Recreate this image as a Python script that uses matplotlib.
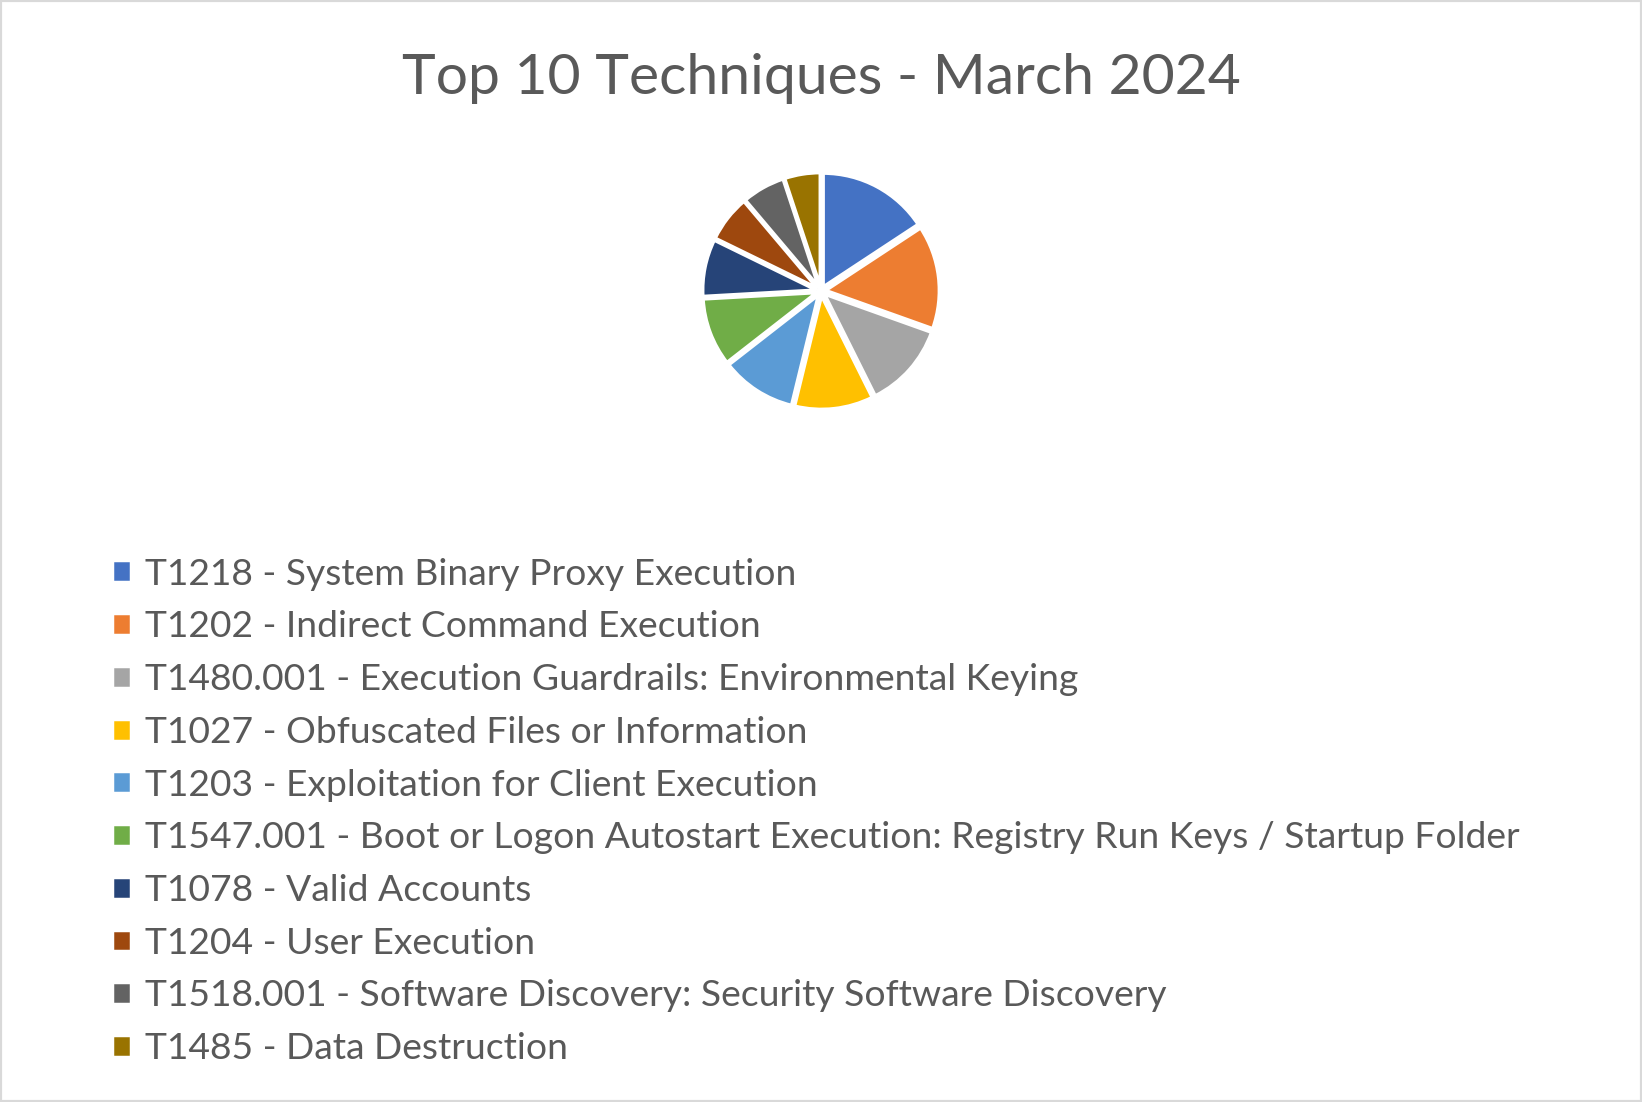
import matplotlib.pyplot as plt
from matplotlib.patches import Rectangle

plt.rcParams['font.family'] = ['Lato', 'DejaVu Sans']

# Techniques and approximate counts
techniques = [
    'T1218 - System Binary Proxy Execution',
    'T1202 - Indirect Command Execution',
    'T1480.001 - Execution Guardrails: Environmental Keying',
    'T1027 - Obfuscated Files or Information',
    'T1203 - Exploitation for Client Execution',
    'T1547.001 - Boot or Logon Autostart Execution: Registry Run Keys / Startup Folder',
    'T1078 - Valid Accounts',
    'T1204 - User Execution',
    'T1518.001 - Software Discovery: Security Software Discovery',
    'T1485 - Data Destruction',
]
counts = [31, 29, 24, 22, 21, 19, 16, 13, 12, 10]
colors = ['#4472C4', '#ED7D31', '#A5A5A5', '#FFC000', '#5B9BD5',
          '#70AD47', '#264478', '#9E480E', '#636363', '#997300']

text_color = '#595959'
W, H = 1642, 1102
fig = plt.figure(figsize=(W / 100, H / 100), dpi=100)

# pie axes centred on the upper part of the chart
cx, cy, size = 821, 291, 296
ax = fig.add_axes([(cx - size / 2) / W, 1 - (cy + size / 2) / H, size / W, size / H])
wedges, _ = ax.pie(counts, colors=colors, startangle=90, counterclock=False,
                   explode=[0.04] * len(counts),
                   wedgeprops=dict(edgecolor='white', linewidth=2.5))
ax.set_xlim(-1.3, 1.3)
ax.set_ylim(-1.3, 1.3)
ax.set_aspect('equal')
ax.axis('off')

fig.text(0.5, 1 - 79 / H, 'Top 10 Techniques - March 2024',
         ha='center', va='center', fontsize=41, color=text_color)

leg = fig.legend(wedges, techniques, loc='upper left',
                 bbox_to_anchor=(93 / W, 1 - 539 / H), frameon=False,
                 fontsize=26.8, handlelength=0.53, handleheight=0.53,
                 handletextpad=0.38, labelspacing=0.53, borderpad=0)
for t in leg.get_texts():
    t.set_color(text_color)

# light grey chart border
fig.patches.append(Rectangle((0, 0), 1, 1, transform=fig.transFigure, fill=False,
                             edgecolor='#D9D9D9', linewidth=3))

fig.savefig('out.png', dpi=100)
